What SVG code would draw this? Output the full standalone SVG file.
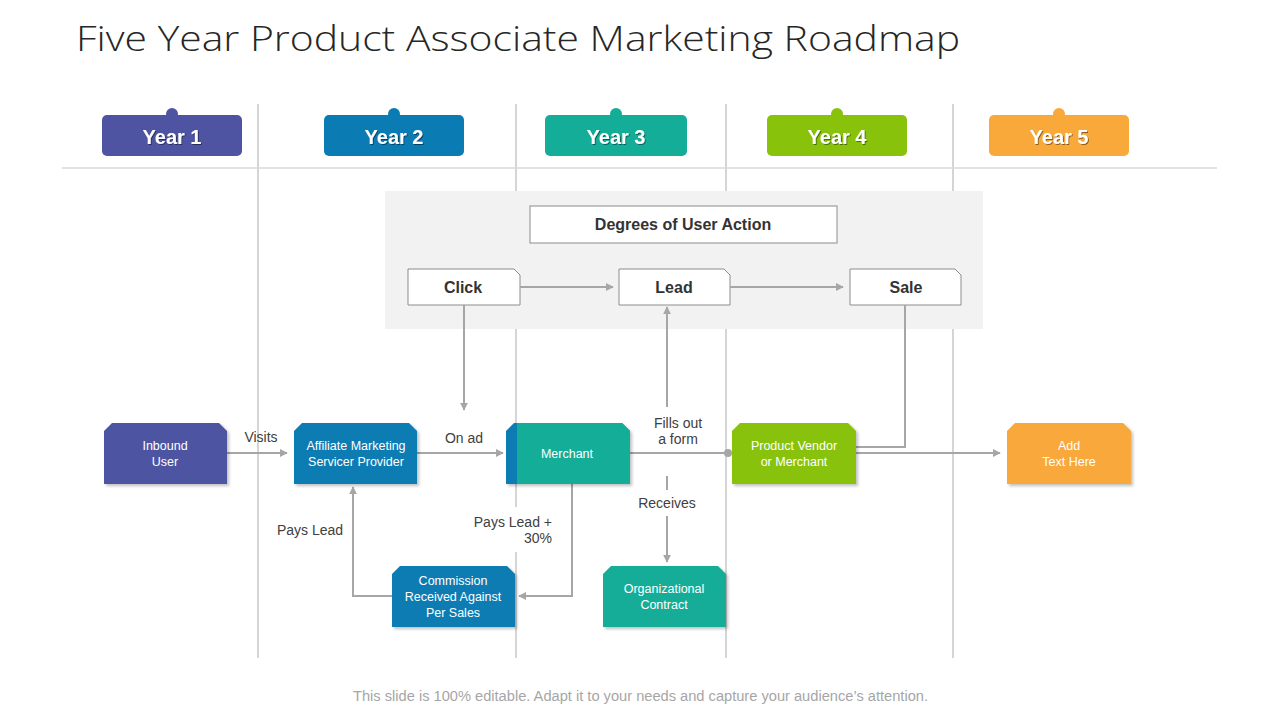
<svg xmlns="http://www.w3.org/2000/svg" width="1280" height="720" viewBox="0 0 1280 720">
<defs>
<style>
.lane{stroke:#bfbfbf;stroke-width:1.3;fill:none}
.conn{stroke:#a6a6a6;stroke-width:2;fill:none}
.yt{font-family:"Liberation Sans",Arial,sans-serif;font-weight:bold;font-size:20px;fill:#fff;text-anchor:middle}
.nt{font-family:"Liberation Sans",Arial,sans-serif;font-size:12.5px;fill:#fff;text-anchor:middle}
.lb{font-family:"Liberation Sans",Arial,sans-serif;font-size:14px;fill:#404040;text-anchor:middle}
.bt{font-family:"Liberation Sans",Arial,sans-serif;font-weight:bold;font-size:16px;fill:#333;text-anchor:middle}
.box{fill:#fff;stroke:#8c8c8c;stroke-width:1}
</style>
<marker id="arr" viewBox="0 0 10 10" refX="9" refY="5" markerWidth="4" markerHeight="4" orient="auto" markerUnits="strokeWidth">
<path d="M0,0 L10,5 L0,10 Z" fill="#a6a6a6"/>
</marker>
<filter id="sh" x="-10%" y="-10%" width="130%" height="130%">
<feDropShadow dx="2" dy="2" stdDeviation="1.5" flood-color="#000" flood-opacity="0.25"/>
</filter>
<filter id="ts" x="-10%" y="-10%" width="120%" height="130%">
<feDropShadow dx="1" dy="1" stdDeviation="0.6" flood-color="#000" flood-opacity="0.45"/>
</filter>
</defs>
<rect width="1280" height="720" fill="#fff"/>
<text x="76" y="51" font-family="'Open Sans','Liberation Sans',Arial,sans-serif" font-weight="300" font-size="35" fill="#262626" textLength="884" lengthAdjust="spacingAndGlyphs">Five Year Product Associate Marketing Roadmap</text>

<g id="lanes">
<line class="lane" x1="258" y1="104" x2="258" y2="658"/>
<line class="lane" x1="516" y1="104" x2="516" y2="658"/>
<line class="lane" x1="726" y1="104" x2="726" y2="658"/>
<line class="lane" x1="953" y1="104" x2="953" y2="658"/>
<line x1="62" y1="168" x2="1217" y2="168" stroke="#d9d9d9" stroke-width="1.3"/>
</g>

<g id="year1"><circle cx="172" cy="114" r="6" fill="#4e54a2"/><rect x="102" y="115" width="140" height="41" rx="5" fill="#4e54a2"/><text class="yt" x="172" y="144" filter="url(#ts)">Year 1</text></g>
<g id="year2"><circle cx="394" cy="114" r="6" fill="#0a7bb3"/><rect x="324" y="115" width="140" height="41" rx="5" fill="#0a7bb3"/><text class="yt" x="394" y="144" filter="url(#ts)">Year 2</text></g>
<g id="year3"><circle cx="616" cy="114" r="6" fill="#13ad98"/><rect x="545" y="115" width="142" height="41" rx="5" fill="#13ad98"/><text class="yt" x="616" y="144" filter="url(#ts)">Year 3</text></g>
<g id="year4"><circle cx="837" cy="114" r="6" fill="#88c20a"/><rect x="767" y="115" width="140" height="41" rx="5" fill="#88c20a"/><text class="yt" x="837" y="144" filter="url(#ts)">Year 4</text></g>
<g id="year5"><circle cx="1059" cy="114" r="6" fill="#f9a83a"/><rect x="989" y="115" width="140" height="41" rx="5" fill="#f9a83a"/><text class="yt" x="1059" y="144" filter="url(#ts)">Year 5</text></g>

<g id="panel"><rect x="385" y="191" width="598" height="138" fill="#f2f2f2"/></g>
<g id="degrees"><rect class="box" x="530" y="206" width="307" height="37"/><text class="bt" x="683" y="230">Degrees of User Action</text></g>
<g id="click"><path class="box" d="M408,269 H514 L520,275 V305 H408 Z"/><text class="bt" x="463" y="293">Click</text></g>
<g id="lead"><path class="box" d="M619,269 H724 L730,275 V305 H619 Z"/><text class="bt" x="674" y="293">Lead</text></g>
<g id="sale"><path class="box" d="M850,269 H955 L961,275 V305 H850 Z"/><text class="bt" x="906" y="293">Sale</text></g>

<g id="labelbg">
<rect x="262" y="516" width="98" height="28" fill="#fff"/>
<rect x="470" y="507" width="86" height="45" fill="#fff"/>
</g>

<g id="connectors">
<path class="conn" d="M227,453 H287" marker-end="url(#arr)"/>
<path class="conn" d="M417,453 H503" marker-end="url(#arr)"/>
<path class="conn" d="M464,305 V410" marker-end="url(#arr)"/>
<path class="conn" d="M630,453 H728"/>
<circle cx="728" cy="453" r="4" fill="#a6a6a6"/>
<path class="conn" d="M667,407 V307" marker-end="url(#arr)"/>
<path class="conn" d="M667,476 V490"/>
<path class="conn" d="M667,516 V562" marker-end="url(#arr)"/>
<path class="conn" d="M856,447 H905 V305"/>
<path class="conn" d="M856,453 H1000" marker-end="url(#arr)"/>
<path class="conn" d="M572,484 V596 H519" marker-end="url(#arr)"/>
<path class="conn" d="M392,596 H353 V487" marker-end="url(#arr)"/>
<path class="conn" d="M520,287 H613" marker-end="url(#arr)"/>
<path class="conn" d="M730,287 H843" marker-end="url(#arr)"/>
<text class="lb" x="261" y="442">Visits</text>
<text class="lb" x="464" y="443">On ad</text>
<text class="lb" x="678" y="428">Fills out</text>
<text class="lb" x="678" y="444">a form</text>
<text class="lb" x="667" y="508">Receives</text>
<text class="lb" x="310" y="535">Pays Lead</text>
<text class="lb" x="552" y="527" style="text-anchor:end">Pays Lead +</text>
<text class="lb" x="552" y="543" style="text-anchor:end">30%</text>
</g>

<g id="inbound"><path filter="url(#sh)" d="M112,423 H219 L227,431 V484 H104 V431 Z" fill="#4e54a2"/><text class="nt" x="165" y="450">Inbound</text><text class="nt" x="165" y="466">User</text></g>
<g id="affiliate"><path filter="url(#sh)" d="M302,423 H409 L417,431 V484 H294 V431 Z" fill="#0a7bb3"/><text class="nt" x="356" y="450">Affiliate Marketing</text><text class="nt" x="356" y="466">Servicer Provider</text></g>
<g id="merchant"><path filter="url(#sh)" d="M514,423 H622 L630,431 V484 H506 V431 Z" fill="#0a7bb3"/><path d="M517,423 H622 L630,431 V484 H517 Z" fill="#13ad98"/><text class="nt" x="567" y="458">Merchant</text></g>
<g id="vendor"><path filter="url(#sh)" d="M740,423 H848 L856,431 V484 H732 V431 Z" fill="#88c20a"/><text class="nt" x="794" y="450">Product Vendor</text><text class="nt" x="794" y="466">or Merchant</text></g>
<g id="addtext"><path filter="url(#sh)" d="M1015,423 H1123 L1131,431 V484 H1007 V431 Z" fill="#f9a83a"/><text class="nt" x="1069" y="450">Add</text><text class="nt" x="1069" y="466">Text Here</text></g>
<g id="commission"><path filter="url(#sh)" d="M400,566 H507 L515,574 V627 H392 V574 Z" fill="#0a7bb3"/><text class="nt" x="453" y="585">Commission</text><text class="nt" x="453" y="601">Received  Against</text><text class="nt" x="453" y="617">Per Sales</text></g>
<g id="orgcontract"><path filter="url(#sh)" d="M611,566 H718 L726,574 V627 H603 V574 Z" fill="#13ad98"/><text class="nt" x="664" y="593">Organizational</text><text class="nt" x="664" y="609">Contract</text></g>

<text x="353" y="701" font-family="'Liberation Sans',Arial,sans-serif" font-size="14" fill="#a6a6a6" textLength="575" lengthAdjust="spacingAndGlyphs">This slide is 100% editable. Adapt it to your needs and capture your audience’s attention.</text>
</svg>
